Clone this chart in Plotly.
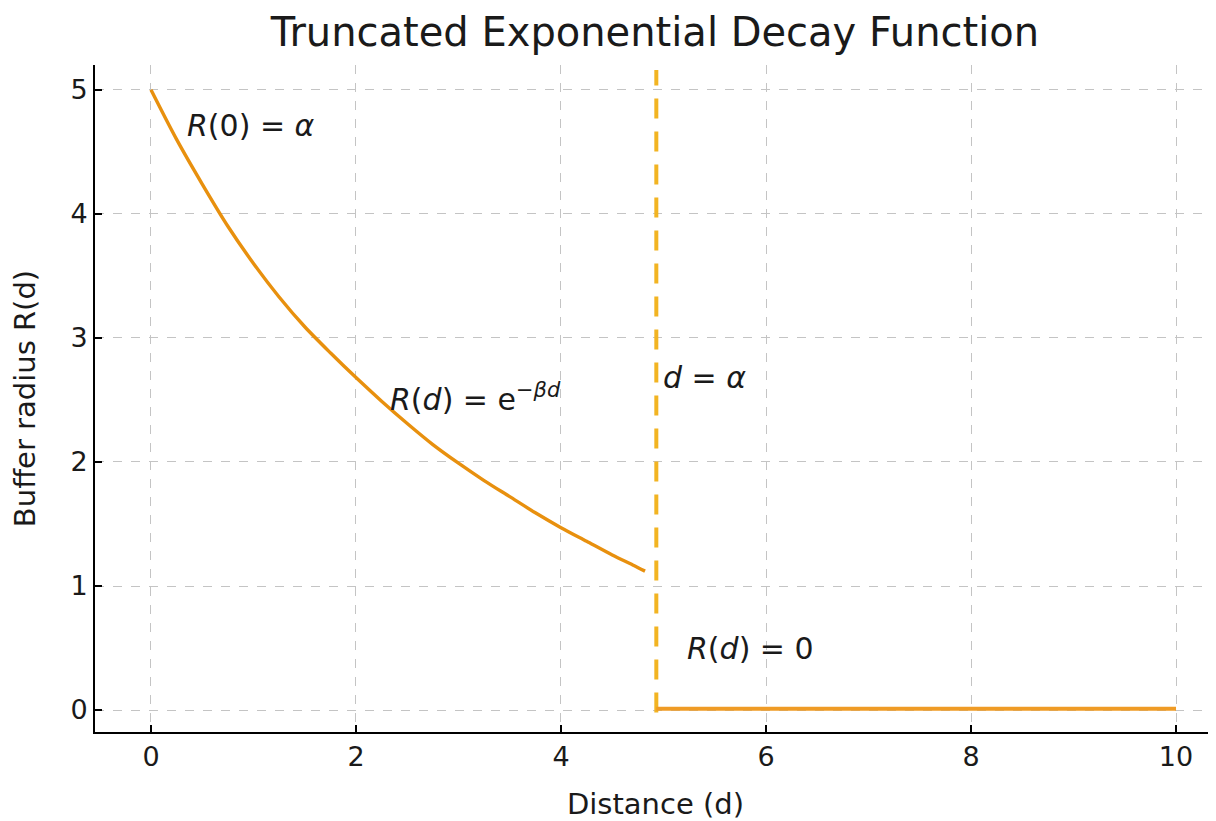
import plotly.graph_objects as go

# Data
decay_d = [0.0, 0.25, 0.5, 0.75, 1.0, 1.25, 1.5, 1.75, 2.0, 2.25, 2.5, 2.75,
           3.0, 3.25, 3.5, 3.75, 4.0, 4.25, 4.5, 4.7, 4.82]
decay_r = [5.00, 4.60, 4.24, 3.90, 3.60, 3.33, 3.09, 2.88, 2.68, 2.49, 2.31, 2.14,
           1.99, 1.85, 1.72, 1.59, 1.47, 1.36, 1.25, 1.17, 1.12]
zero_d = [4.93, 10.0]
zero_r = [0.01, 0.01]
cutoff_d = 4.93
cutoff_r = [-0.02, 5.16]
x_ticks = [0, 2, 4, 6, 8, 10]
y_ticks = [0, 1, 2, 3, 4, 5]

title_text = "Truncated Exponential Decay Function"
x_label = "Distance (d)"
y_label = "Buffer radius R(d)"

FONT = "DejaVu Sans, Liberation Sans, sans-serif"
INK = "#1a1a1a"

fig = go.Figure()
fig.add_trace(go.Scatter(x=decay_d, y=decay_r, mode="lines",
                         line=dict(color="#E8900E", width=3.4, shape="spline", smoothing=0.8),
                         showlegend=False, hoverinfo="skip"))
fig.add_trace(go.Scatter(x=[cutoff_d, cutoff_d], y=cutoff_r, mode="lines",
                         line=dict(color="#F2B422", width=4, dash="20px,13px"),
                         showlegend=False, hoverinfo="skip"))
fig.add_trace(go.Scatter(x=zero_d, y=zero_r, mode="lines",
                         line=dict(color="#EF9B25", width=4),
                         showlegend=False, hoverinfo="skip"))

ann_font = dict(family=FONT, size=30, color=INK)
anns = [
    dict(x=0.33, y=4.71, text="<i>R</i>(0) = <i>α</i>"),
    dict(x=2.31, y=2.52, text="<i>R</i>(<i>d</i>) = e<sup>−<i>βd</i></sup>"),
    dict(x=4.98, y=2.68, text="<i>d</i> = <i>α</i>"),
    dict(x=5.21, y=0.5, text="<i>R</i>(<i>d</i>) = 0"),
]
for a in anns:
    fig.add_annotation(x=a["x"], y=a["y"], text=a["text"], showarrow=False,
                       xanchor="left", yanchor="middle", font=ann_font)

grid = dict(showgrid=True, gridcolor="#c4c4c4", gridwidth=1, griddash="dash",
            zeroline=False, showline=True, linecolor="black", linewidth=2,
            ticks="inside", ticklen=7, tickwidth=1.5, tickcolor="black",
            tickfont=dict(family=FONT, size=27, color=INK), mirror=False)

fig.update_layout(
    width=1208, height=813,
    margin=dict(l=87, r=0, t=57, b=89),
    paper_bgcolor="white", plot_bgcolor="white",
    title=dict(text=title_text, x=0.5356, xanchor="center", y=0.9705, yanchor="middle",
               font=dict(family=FONT, size=40, color=INK)),
    xaxis=dict(range=[-0.546, 10.39], tickvals=x_ticks,
               title=dict(text=x_label, font=dict(family=FONT, size=29, color=INK), standoff=22),
               **grid),
    yaxis=dict(range=[-0.177, 5.2], tickvals=y_ticks,
               title=dict(text=y_label, font=dict(family=FONT, size=29, color=INK), standoff=28),
               **grid),
)

fig.write_html("out.html")
